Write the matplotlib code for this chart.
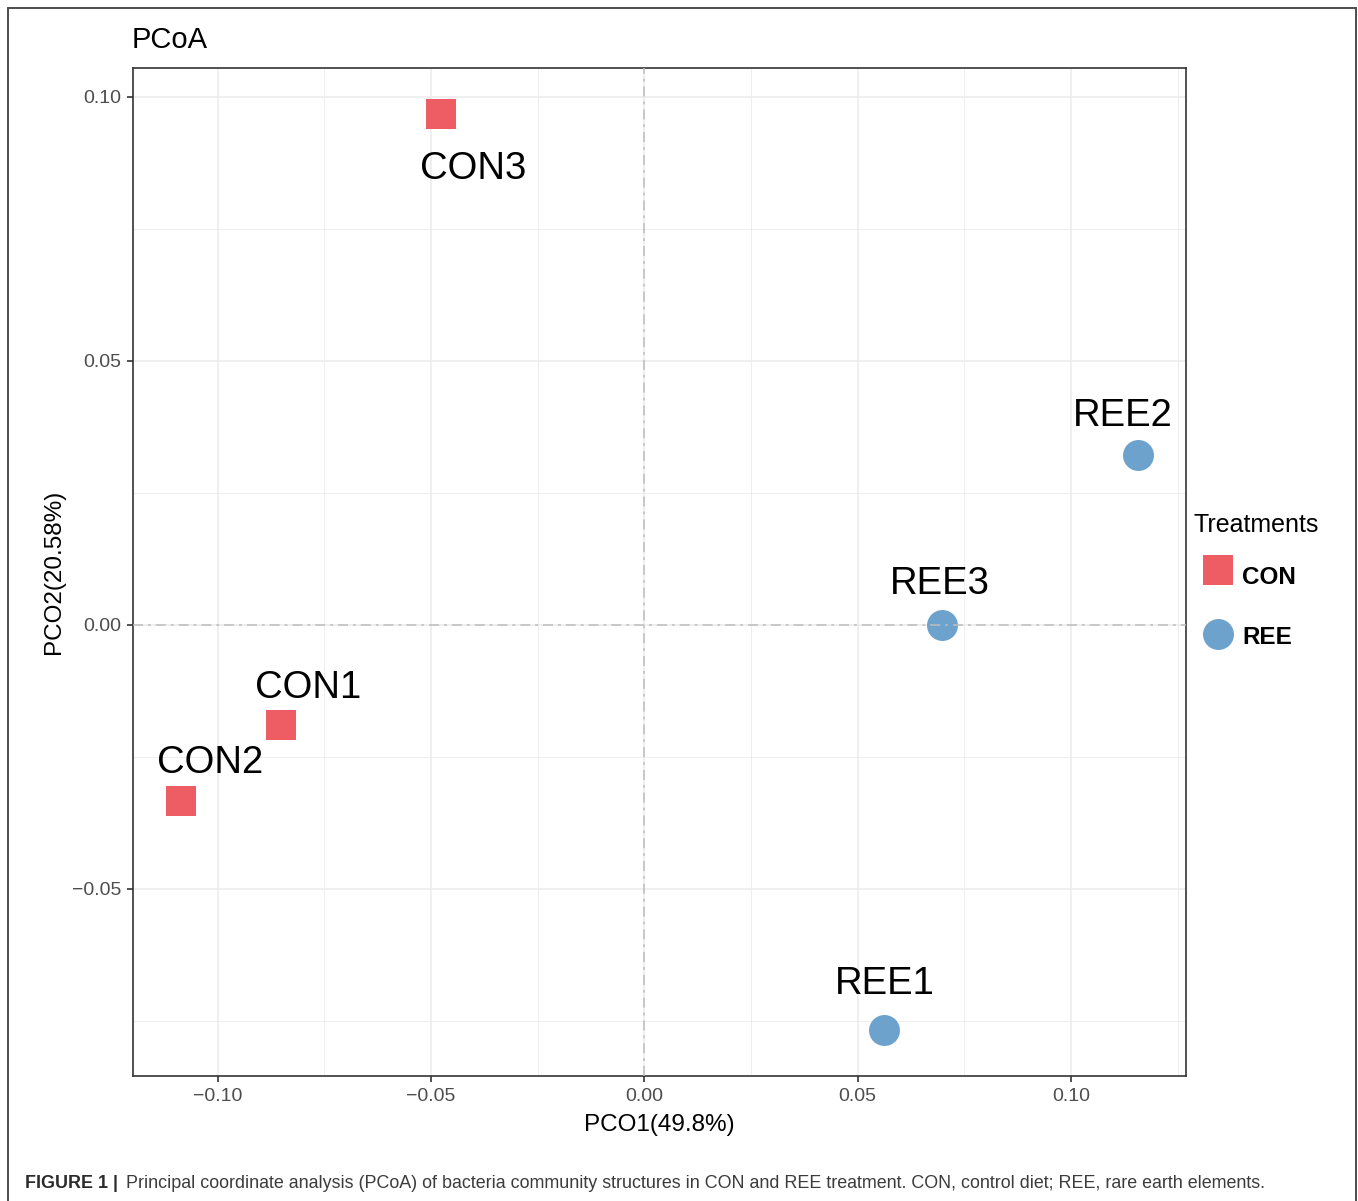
import matplotlib
matplotlib.use("Agg")
import matplotlib.pyplot as plt
from matplotlib.ticker import MultipleLocator, FixedLocator
from matplotlib.lines import Line2D
from matplotlib.patches import Rectangle

# ---- data -------------------------------------------------------------
samples = ["CON1", "CON2", "CON3", "REE1", "REE2", "REE3"]
groups = ["CON", "CON", "CON", "REE", "REE", "REE"]
pco1 = [-0.0852, -0.1086, -0.0477, 0.0562, 0.1157, 0.0697]
pco2 = [-0.0190, -0.0333, 0.0968, -0.0768, 0.0321, 0.0000]

treatments = ["CON", "REE"]
x_ticks = [-0.10, -0.05, 0.00, 0.05, 0.10]
y_ticks = [-0.05, 0.00, 0.05, 0.10]
x_label = "PCO1(49.8%)"
y_label = "PCO2(20.58%)"
caption_bold = "FIGURE 1 |"
caption_text = ("Principal coordinate analysis (PCoA) of bacteria community structures "
                "in CON and REE treatment. CON, control diet; REE, rare earth elements.")

# ---- style ------------------------------------------------------------
W, H, DPI = 1358, 1201, 100
FONT = "Liberation Sans"
plt.rcParams["font.family"] = [FONT, "DejaVu Sans"]
plt.rcParams["axes.unicode_minus"] = True

colors = {"CON": "#EE5D63", "REE": "#6DA2CD"}
markers = {"CON": "s", "REE": "o"}
MS = 22.3  # marker size in points

# text label offsets (pixels, relative to each point, baseline anchored)
label_offsets = {
    "CON1": (27.5, 27), "CON2": (29.5, 28), "CON3": (32.5, -64.7),
    "REE1": (0.5, 36), "REE2": (-15.5, 29.7), "REE3": (-1.5, 30.5),
}

def fx(px):
    return px / W

def fy(py):
    return 1 - py / H

fig = plt.figure(figsize=(W / DPI, H / DPI), dpi=DPI)
fig.patch.set_facecolor("white")

ax = fig.add_axes([fx(133), fy(1076), fx(1186) - fx(133), fy(68) - fy(1076)])
ax.set_facecolor("white")

# points by treatment
for g in treatments:
    xs = [x for x, gg in zip(pco1, groups) if gg == g]
    ys = [y for y, gg in zip(pco2, groups) if gg == g]
    ax.plot(xs, ys, linestyle="none", marker=markers[g], markersize=MS,
            markerfacecolor=colors[g], markeredgewidth=0, zorder=3)

ax.margins(0.05)

# zero reference lines (dot-dash)
plt.rcParams["lines.scale_dashes"] = False
for fn, v in ((ax.axhline, 0.0), (ax.axvline, 0.0)):
    ln = fn(v, color="#BDBDBD", linewidth=1.1, zorder=4)
    ln.set_dashes((7.2, 3.6, 2.0, 3.6))

# sample labels
for name, x, y in zip(samples, pco1, pco2):
    dx, dy = label_offsets[name]
    ax.annotate(name, (x, y), xytext=(dx, dy), textcoords="offset pixels",
                ha="center", va="baseline", fontsize=27.5, color="black",
                family=FONT, zorder=5)

# grid
ax.xaxis.set_major_locator(FixedLocator(x_ticks))
ax.yaxis.set_major_locator(FixedLocator(y_ticks))
ax.xaxis.set_minor_locator(MultipleLocator(0.025))
ax.yaxis.set_minor_locator(MultipleLocator(0.025))
ax.grid(which="major", color="#EBEBEB", linewidth=1.1, zorder=0)
ax.grid(which="minor", color="#EBEBEB", linewidth=0.6, zorder=0)
ax.set_axisbelow(True)

ax.set_xticklabels([f"{t:.2f}".replace("-", "\u2212") for t in x_ticks])
ax.set_yticklabels([f"{t:.2f}".replace("-", "\u2212") for t in y_ticks])
ax.tick_params(which="major", direction="out", length=4.3, width=1.2,
               color="#333333", labelsize=14, labelcolor="#4D4D4D", pad=4.3)
ax.tick_params(which="minor", length=0)
for s in ax.spines.values():
    s.set_color("#333333")
    s.set_linewidth(1.2)

# axis titles and plot title
fig.text(fx(659.5), fy(1131), x_label, ha="center", va="baseline",
         fontsize=17.5, color="black")
fig.text(fx(60), fy(572), y_label, ha="center", va="baseline", rotation=90,
         rotation_mode="anchor", fontsize=17.5, color="black")
fig.text(fx(132), fy(48.3), "PCoA", ha="left", va="baseline",
         fontsize=21, color="black")

# legend
fig.text(fx(1194), fy(532), "Treatments", ha="left", va="baseline",
         fontsize=18, color="black")
legend_rows = {"CON": (570, 584), "REE": (633.5, 644)}
for g in treatments:
    cy, by = legend_rows[g]
    fig.add_artist(Line2D([fx(1218)], [fy(cy)], linestyle="none",
                          marker=markers[g], markersize=MS,
                          markerfacecolor=colors[g], markeredgewidth=0,
                          transform=fig.transFigure))
    fig.text(fx(1242), fy(by), g, ha="left", va="baseline", fontsize=17.5,
             fontweight="bold", color="black")

# outer frame
fig.add_artist(Rectangle((fx(8), fy(1215)), fx(1355.5) - fx(8), fy(8) - fy(1215),
                         transform=fig.transFigure, fill=False,
                         edgecolor="#4D4D4D", linewidth=1.4, clip_on=False))

# caption
renderer = fig.canvas.get_renderer()
t1 = fig.text(fx(25), fy(1188), caption_bold, ha="left", va="baseline",
              fontsize=12.9, fontweight="bold", color="#2B2B2B")
x1 = t1.get_window_extent(renderer).x1
fig.text((x1 + 8) / W, fy(1188), caption_text, ha="left", va="baseline",
         fontsize=12.9, color="#3C3C3C")

fig.savefig("out.png", dpi=DPI)
